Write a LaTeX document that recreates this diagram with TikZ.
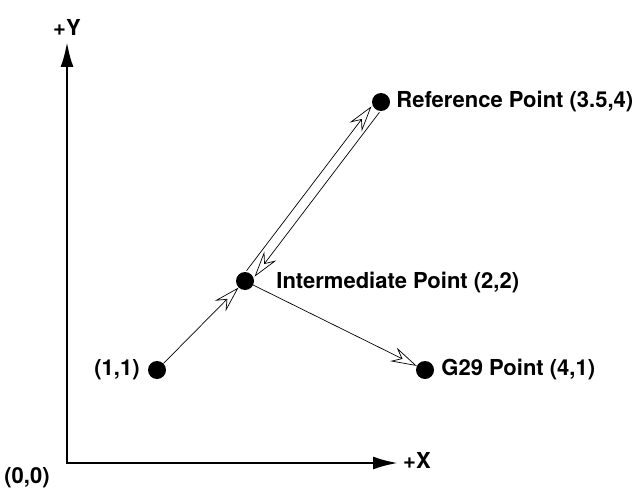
\documentclass[tikz,border=0pt]{standalone}
\usepackage{fontspec}
\setmainfont{TeX Gyre Heros}
\usetikzlibrary{positioning,arrows.meta,calc}
\tikzset{
  dot/.style={circle,fill=black,inner sep=0pt,minimum size=18pt},
  lbl/.style={font=\fontsize{22}{26}\selectfont\bfseries,inner sep=0pt},
  axis/.style={-{Latex[length=25pt,width=13pt]},line width=2.6pt},
  move/.style={-{Stealth[open,length=26pt,width=15pt,inset=9pt]},line width=0.7pt}}
\begin{document}
\begin{tikzpicture}[x=1pt,y=1pt]
  \useasboundingbox (-67,-28) rectangle (572,463);
  % axes
  \coordinate (origin) at (0,0);
  \coordinate (ytip) at (0,421);
  \coordinate (xtip) at (331,0);
  \draw[axis] ([yshift=-1.3pt]origin) -- (ytip);
  \draw[axis] ([xshift=-1.3pt]origin) -- (xtip);
  \node[lbl,above=6pt of ytip] (ylbl) {+Y};
  \node[lbl,anchor=west] (xlbl) at ($(xtip)+(5,3)$) {+X};
  \node[lbl] (olbl) at (-40,-15) {(0,0)};
  % points
  \node[dot] (start) at (90,93) {};
  \node[dot] (inter) at (178,182) {};
  \node[dot] (ref) at (314,361) {};
  \node[dot] (gpt) at (358,93) {};
  \node[lbl,left=8pt of start] (startlbl) {(1,1)};
  \node[lbl,right=22pt of inter,yshift=-2pt] (interlbl) {Intermediate Point (2,2)};
  \node[lbl,right=6pt of ref] (reflbl) {Reference Point (3.5,4)};
  \node[lbl,right=7pt of gpt] (gptlbl) {G29 Point (4,1)};
  % moves
  \draw[move] (start) -- (inter);
  \draw[move,transform canvas={shift={(-4,3)}}] (inter) -- (ref);
  \draw[move,transform canvas={shift={(4,-3)}}] (ref) -- (inter);
  \draw[move] (inter) -- (gpt);
\end{tikzpicture}
\end{document}
